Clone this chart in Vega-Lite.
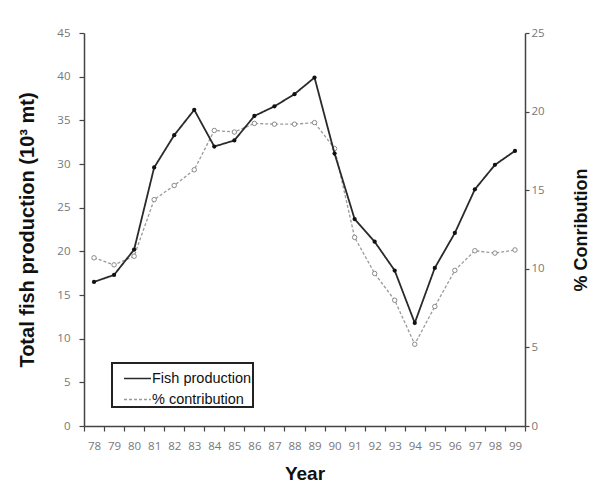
{
  "$schema": "https://vega.github.io/schema/vega-lite/v6.json",
  "width": 441,
  "height": 393,
  "autosize": "none",
  "padding": {"left": 84, "top": 33, "right": 78, "bottom": 68},
  "background": "white",
  "data": {"values": [
    {"year": "78", "fish": 16.5, "pct": 10.7},
    {"year": "79", "fish": 17.3, "pct": 10.25},
    {"year": "80", "fish": 20.2, "pct": 10.8},
    {"year": "81", "fish": 29.6, "pct": 14.4},
    {"year": "82", "fish": 33.3, "pct": 15.3},
    {"year": "83", "fish": 36.2, "pct": 16.3},
    {"year": "84", "fish": 32.0, "pct": 18.8},
    {"year": "85", "fish": 32.7, "pct": 18.7},
    {"year": "86", "fish": 35.5, "pct": 19.25},
    {"year": "87", "fish": 36.6, "pct": 19.2},
    {"year": "88", "fish": 38.0, "pct": 19.2},
    {"year": "89", "fish": 39.9, "pct": 19.3},
    {"year": "90", "fish": 31.2, "pct": 17.65},
    {"year": "91", "fish": 23.7, "pct": 12.0},
    {"year": "92", "fish": 21.1, "pct": 9.7},
    {"year": "93", "fish": 17.8, "pct": 8.0},
    {"year": "94", "fish": 11.8, "pct": 5.2},
    {"year": "95", "fish": 18.1, "pct": 7.6},
    {"year": "96", "fish": 22.1, "pct": 9.9},
    {"year": "97", "fish": 27.1, "pct": 11.15},
    {"year": "98", "fish": 29.9, "pct": 11.0},
    {"year": "99", "fish": 31.5, "pct": 11.2}
  ]},
  "encoding": {
    "x": {
      "field": "year", "type": "ordinal",
      "scale": {"type": "band", "paddingInner": 0, "paddingOuter": 0},
      "axis": {"title": "Year", "titleFontSize": 19, "labelAngle": 0, "tickBand": "extent", "labelPadding": 9, "titlePadding": 13}
    }
  },
  "layer": [
    {
      "layer": [
        {
          "mark": {"type": "line", "strokeWidth": 1.3},
          "encoding": {
            "y": {"field": "pct", "type": "quantitative"},
            "color": {"datum": "% contribution", "title": null,
              "scale": {"domain": ["Fish production", "% contribution"], "range": ["#2a2a2a", "#9a9a9a"]}},
            "strokeDash": {"datum": "% contribution", "title": null,
              "scale": {"domain": ["Fish production", "% contribution"], "range": [[1, 0], [3, 2]]}}
          }
        },
        {
          "mark": {"type": "point", "shape": "circle", "filled": false, "fill": "white", "fillOpacity": 1, "stroke": "#8a8a8a", "strokeWidth": 1, "size": 20, "opacity": 1},
          "encoding": {"y": {"field": "pct", "type": "quantitative"}}
        }
      ],
      "encoding": {
        "y": {"field": "pct", "type": "quantitative",
          "scale": {"domain": [0, 25], "nice": false},
          "axis": {"orient": "right", "values": [0, 5, 10, 15, 20, 25], "title": "% Conribution", "titleFontSize": 18, "titleAngle": 270, "labelPadding": 2, "tickSize": 4, "titlePadding": 46}}
      }
    },
    {
      "layer": [
        {
          "mark": {"type": "line", "strokeWidth": 1.8},
          "encoding": {
            "y": {"field": "fish", "type": "quantitative"},
            "color": {"datum": "Fish production", "title": null},
            "strokeDash": {"datum": "Fish production", "title": null}
          }
        },
        {
          "mark": {"type": "point", "shape": "circle", "filled": true, "color": "#111", "size": 18, "opacity": 1},
          "encoding": {"y": {"field": "fish", "type": "quantitative"}}
        }
      ],
      "encoding": {
        "y": {"field": "fish", "type": "quantitative",
          "scale": {"domain": [0, 45], "nice": false},
          "axis": {"orient": "left", "values": [0, 5, 10, 15, 20, 25, 30, 35, 40, 45], "title": "Total fish production (10³ mt)", "titleFontSize": 20, "labelPadding": 9, "titlePadding": 19}}
      }
    }
  ],
  "resolve": {"scale": {"y": "independent"}},
  "config": {
    "view": {"stroke": null},
    "axis": {
      "domainColor": "#444", "domainWidth": 1.5, "tickColor": "#444", "tickWidth": 1.2, "tickSize": 5,
      "grid": false, "labelFont": "Open Sans", "labelFontSize": 11.5, "labelColor": "#777",
      "titleFont": "Liberation Sans", "titleFontWeight": "bold", "titleColor": "#111"
    },
    "legend": {
      "orient": "none", "legendX": 28, "legendY": 330,
      "strokeColor": "#222", "strokeWidth": 2, "padding": 1,
      "symbolType": "stroke", "symbolSize": 729, "symbolStrokeWidth": 1.5, "symbolOffset": 10,
      "labelFont": "Liberation Sans", "labelFontSize": 14.5, "labelColor": "#111", "labelOffset": 0, "rowPadding": -10
    }
  }
}
